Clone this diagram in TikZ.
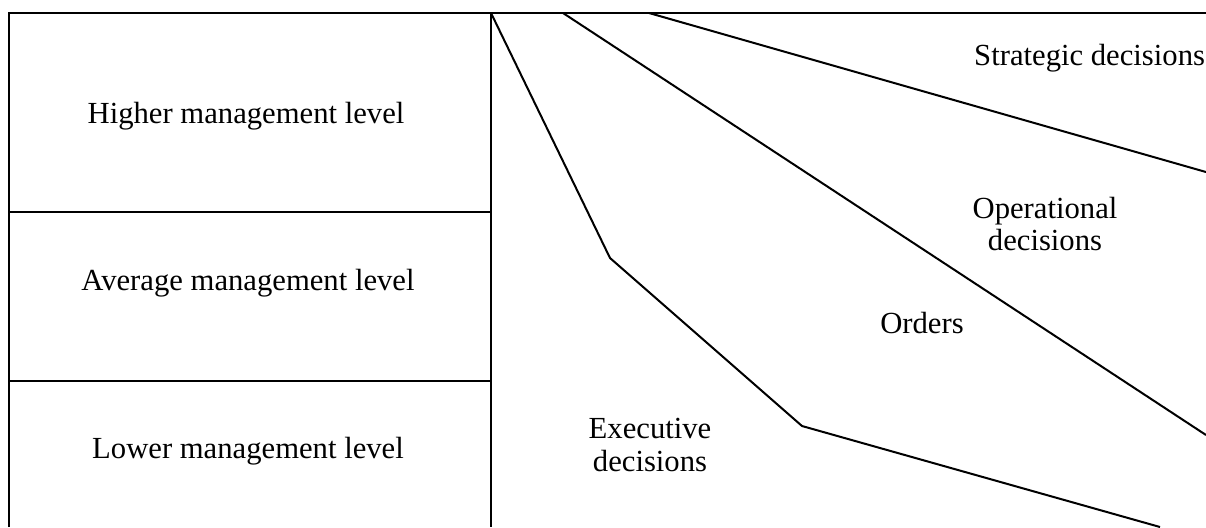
\documentclass[tikz,border=0pt]{standalone}
\usepackage{fontspec}
\setmainfont{Liberation Serif}
\usepackage{tikz}
\usetikzlibrary{calc}
\tikzset{lbl/.style={inner sep=0pt, align=center, font=\fontsize{11.5}{11.9}\selectfont}}

\begin{document}
\begin{tikzpicture}[x=0.375pt, y=-0.375pt, line width=0.75pt]
  \useasboundingbox (0, 0) rectangle (1206, 527);
  % levels
  \draw (9, 527) -- (9, 13) -- (1206, 13);
  \draw (491, 13) -- (491, 527);
  \draw (9, 212) -- (491, 212);
  \draw (9, 381) -- (491, 381);
  \node[lbl] (high) at (246, 116) {Higher management level};
  \node[lbl] (avg) at (248, 283) {Average management level};
  \node[lbl] (low) at (248, 451) {Lower management level};

  % decision bands
  \draw (491, 13) -- (610, 258) -- (802, 426) -- (1160, 527);
  \draw (563, 13) -- (1206, 435);
  \draw (649, 13) -- (1206, 172);
  \node[lbl, anchor=east] (strat) at (1206, 58) {Strategic decisions};
  \node[lbl] (oper) at (1045, 224) {Operational\\decisions};
  \node[lbl] (ord) at (922, 323) {Orders};
  \node[lbl, font=\fontsize{11.5}{12.6}\selectfont] (exec) at (650, 445) {Executive\\decisions};
\end{tikzpicture}
\end{document}
